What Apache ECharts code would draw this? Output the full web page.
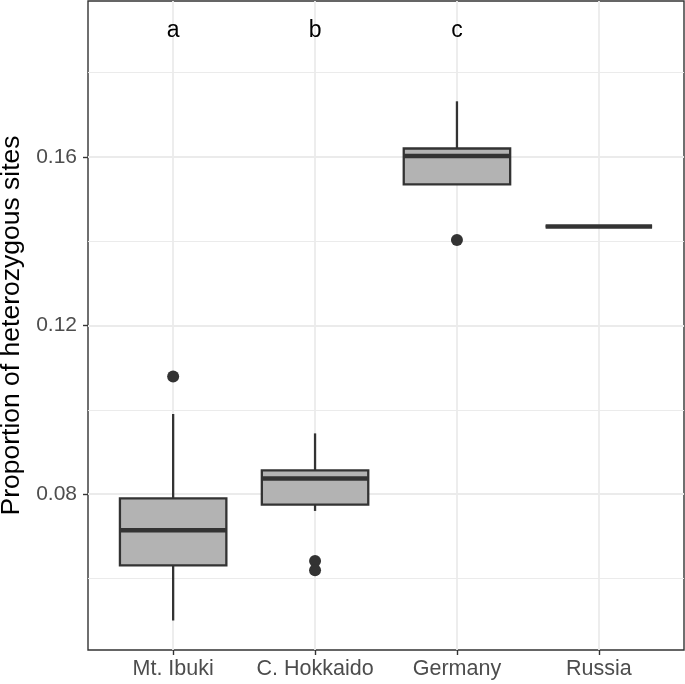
<!DOCTYPE html>
<html><head><meta charset="utf-8">
<script src="https://cdn.jsdelivr.net/npm/echarts@6/dist/echarts.min.js"></script>
<style>html,body{margin:0;padding:0;background:#fff}#c{width:685px;height:684px}</style>
</head><body><div id="c"></div>
<script>
const categories = ['Mt. Ibuki', 'C. Hokkaido', 'Germany', 'Russia'];
const whiskerLow  = [0.0500, 0.0760, 0.1535, 0.1435];
const q1          = [0.0631, 0.0775, 0.1535, 0.1435];
const median      = [0.0714, 0.0837, 0.1602, 0.1435];
const q3          = [0.0790, 0.0856, 0.1620, 0.1435];
const whiskerHigh = [0.0990, 0.0944, 0.1732, 0.1435];
const outlierGroup = [0, 1, 1, 2];
const outlierValue = [0.1079, 0.0641, 0.0619, 0.1403];
const letters = ['a', 'b', 'c'];
const letterY = 0.19;
const majorTicks = [0.08, 0.12, 0.16];
const minorTicks = [0.06, 0.10, 0.14, 0.18];
const yMin = 0.043, yMax = 0.197;
const catPos = categories.map((c, i) => i + 1);

const FONT = 'Liberation Sans, Arial, sans-serif';
const chart = echarts.init(document.getElementById('c'), null, {renderer: 'canvas'});

const boxData = categories.map((c, i) => [catPos[i], whiskerLow[i], q1[i], median[i], q3[i], whiskerHigh[i]]);
const outlierData = outlierGroup.map((g, i) => [catPos[g], outlierValue[i]]);
const letterData = letters.map((l, i) => [catPos[i], letterY]);

chart.setOption({
  animation: false,
  backgroundColor: '#fff',
  grid: {left: 88, top: 1, right: 1, bottom: 34, show: true, borderColor: '#333', borderWidth: 1.4, backgroundColor: 'transparent', containLabel: false, outerBoundsMode: 'none'},
  xAxis: {
    type: 'value', min: 0.4, max: 4.6,
    axisLine: {show: false},
    axisTick: {show: true, customValues: catPos, length: 5, lineStyle: {color: '#333', width: 1.4}},
    axisLabel: {customValues: catPos, formatter: v => categories[Math.round(v) - 1], fontSize: 21.5, color: '#4d4d4d', margin: 8, fontFamily: FONT},
    splitLine: {show: true, lineStyle: {color: '#ebebeb', width: 1.8}}
  },
  yAxis: [{
    type: 'value', min: yMin, max: yMax,
    name: 'Proportion of heterozygous sites', nameLocation: 'middle', nameGap: 62,
    nameTextStyle: {fontSize: 26.5, color: '#000', fontFamily: FONT},
    axisLine: {show: false},
    axisTick: {show: true, customValues: majorTicks, length: 5, lineStyle: {color: '#333', width: 1.4}},
    axisLabel: {customValues: majorTicks, formatter: v => v.toFixed(2), fontSize: 21, color: '#4d4d4d', margin: 11, fontFamily: FONT},
    splitLine: {show: true, lineStyle: {color: '#ebebeb', width: 1.8}}
  }, {
    type: 'value', min: yMin, max: yMax, position: 'left',
    axisLine: {show: false},
    axisTick: {show: false, customValues: minorTicks},
    axisLabel: {show: false, customValues: minorTicks},
    splitLine: {show: true, lineStyle: {color: '#ebebeb', width: 1}}
  }],
  series: [{
    type: 'custom',
    data: boxData,
    encode: {x: 0, y: [1, 2, 3, 4, 5]},
    z: 3,
    renderItem: function (params, api) {
      const x = api.value(0);
      const lo = api.value(1), a = api.value(2), m = api.value(3), b = api.value(4), hi = api.value(5);
      const hw = 0.375;
      const lt = api.coord([x - hw, b]);
      const rb = api.coord([x + hw, a]);
      const pHi = api.coord([x, hi]), pB = api.coord([x, b]), pA = api.coord([x, a]), pLo = api.coord([x, lo]);
      const ml = api.coord([x - hw, m]), mr = api.coord([x + hw, m]);
      return {type: 'group', children: [
        {type: 'line', shape: {x1: pHi[0], y1: pHi[1], x2: pB[0], y2: pB[1]}, style: {stroke: '#333', lineWidth: 2.3}},
        {type: 'line', shape: {x1: pA[0], y1: pA[1], x2: pLo[0], y2: pLo[1]}, style: {stroke: '#333', lineWidth: 2.3}},
        {type: 'rect', shape: {x: lt[0], y: lt[1], width: rb[0] - lt[0], height: rb[1] - lt[1]}, style: {fill: '#b3b3b3', stroke: '#333', lineWidth: 2.3}},
        {type: 'line', shape: {x1: ml[0], y1: ml[1], x2: mr[0], y2: mr[1]}, style: {stroke: '#333', lineWidth: 4.5}}
      ]};
    }
  }, {
    type: 'scatter',
    data: outlierData,
    symbol: 'circle', symbolSize: 12,
    itemStyle: {color: '#333', opacity: 1},
    z: 4
  }, {
    type: 'custom',
    data: letterData,
    encode: {x: 0, y: 1},
    z: 5,
    renderItem: function (params, api) {
      const p = api.coord([api.value(0), api.value(1)]);
      return {type: 'text', x: p[0], y: p[1], style: {text: letters[params.dataIndex], fill: '#000', fontSize: 23, fontFamily: FONT, align: 'center', verticalAlign: 'middle'}};
    }
  }]
});
</script></body></html>
